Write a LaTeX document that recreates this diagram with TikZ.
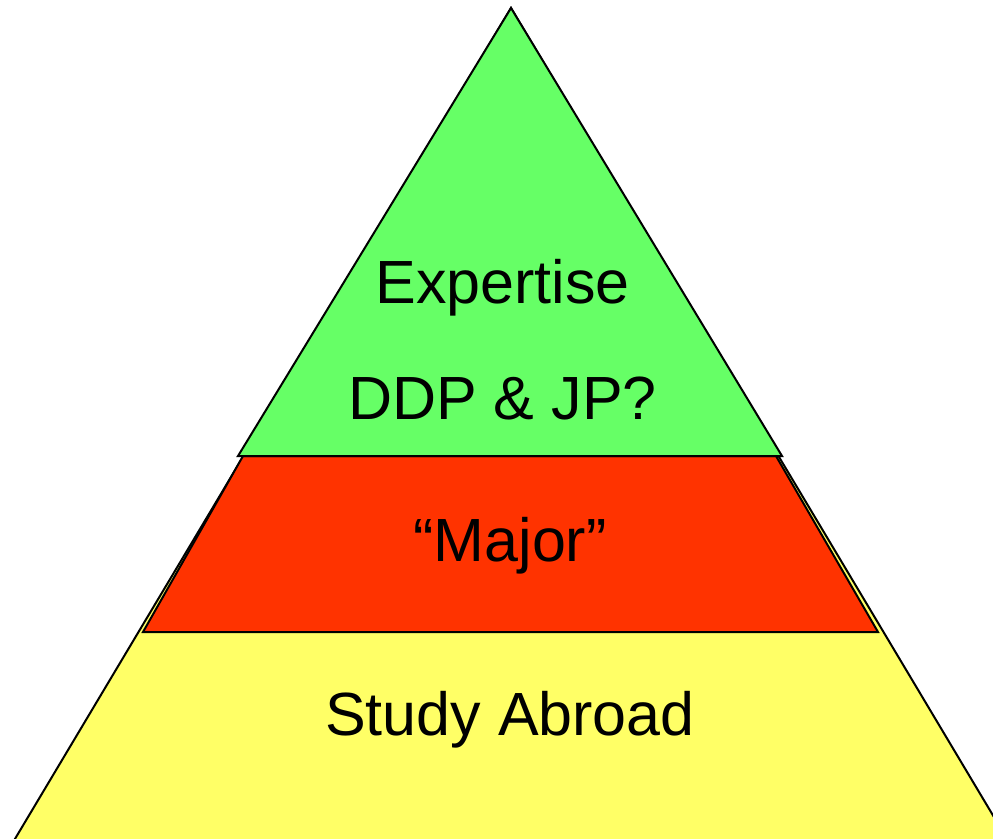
\documentclass[tikz,border=0pt]{standalone}
\usepackage{fontspec}
\setmainfont{Liberation Sans}
\definecolor{tiergreen}{HTML}{66FF66}
\definecolor{tierred}{HTML}{FF3300}
\definecolor{tieryellow}{HTML}{FFFF66}
\begin{document}
\begin{tikzpicture}[
    x=1pt, y=-1pt,
    tier/.style={draw=black, line width=2pt, line join=miter},
    label/.style={anchor=base, font=\fontsize{61}{72}\selectfont}
]

    % --- Frame ---
    \useasboundingbox (0,0) rectangle (993,838);
    \clip (0,0) rectangle (993,838);

    % --- Base tier (Yellow) ---
    \draw[tier, fill=tieryellow] (511,8) -- (-21.5,900) -- (1043.5,900) -- cycle;

    % --- Middle tier (Red) ---
    \draw[tier, fill=tierred] (243,456) -- (776,456) -- (878,632) -- (143,632) -- cycle;

    % --- Top tier (Green) ---
    \draw[tier, fill=tiergreen] (511,8) -- (238,456) -- (782,456) -- cycle;

    % --- Labels ---
    \node[label] (expertise) at (502.5,303) {Expertise};
    \node[label] (ddp) at (502.5,419) {DDP \& JP?};
    \node[label] (major) at (510,561) {“Major”};
    \node[label] (abroad) at (510,735) {Study Abroad};
\end{tikzpicture}
\end{document}
